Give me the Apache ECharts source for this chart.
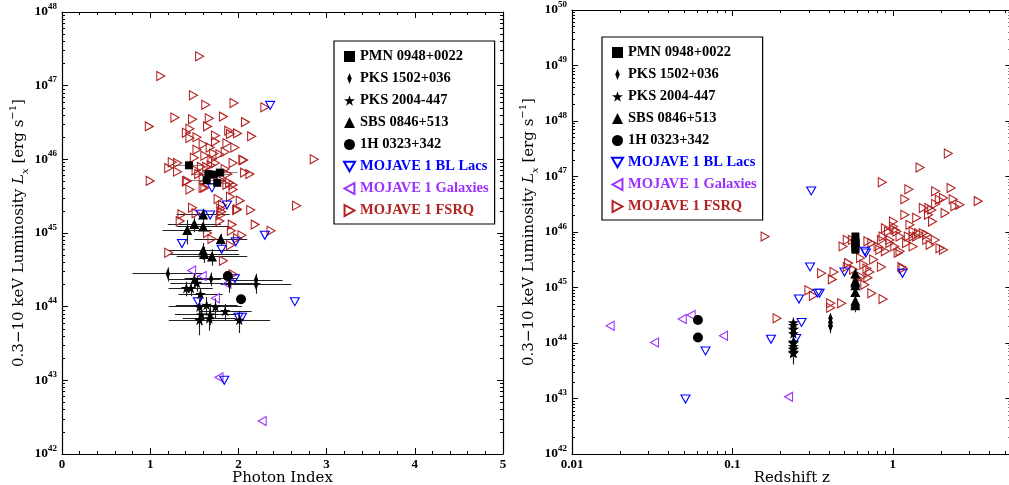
<!DOCTYPE html>
<html>
<head>
<meta charset="utf-8">
<script src="https://cdn.jsdelivr.net/npm/echarts@6/dist/echarts.min.js"></script>
<style>
  html, body { margin: 0; padding: 0; background: #fff; }
  #chart { width: 1009px; height: 485px; }
</style>
</head>
<body>
<div id="chart"></div>
<script>
// ---- Individual sources: rows are [photon index, index error, L_x (erg/s), L_x error] ----
const pmn0948 = [
  [1.44, 0.17, 8.3e45, 0.9e45], [1.66, 0.20, 6.3e45, 0.7e45], [1.72, 0.20, 6.2e45, 0.7e45],
  [1.79, 0.20, 6.6e45, 0.7e45], [1.64, 0.20, 5.2e45, 0.6e45], [1.76, 0.20, 4.8e45, 0.6e45]
];
const pks1502 = [
  [1.20, 0.40, 2.8e44, 0.6e44], [1.69, 0.30, 2.4e44, 0.5e44], [1.90, 0.35, 2.05e44, 0.5e44],
  [2.20, 0.30, 2.3e44, 0.5e44], [2.20, 0.40, 2.0e44, 0.5e44]
];
const pks2004 = [
  [1.50, 0.30, 2.35e44, 0.5e44], [1.53, 0.30, 2.1e44, 0.5e44], [1.41, 0.20, 1.78e44, 0.4e44],
  [1.46, 0.25, 1.78e44, 0.4e44], [1.57, 0.25, 1.48e44, 0.3e44], [1.56, 0.35, 1.0e44, 0.3e44],
  [1.64, 0.35, 1.05e44, 0.3e44], [1.74, 0.30, 1.0e44, 0.3e44], [1.58, 0.30, 7.8e43, 2.2e43],
  [1.68, 0.30, 7.8e43, 2.2e43], [1.85, 0.30, 8.7e43, 2.2e43], [1.56, 0.35, 6.6e43, 2.5e43],
  [1.67, 0.30, 6.9e43, 2.2e43], [2.01, 0.35, 6.6e43, 2.2e43]
];
const sbs0846 = [
  [1.60, 0.30, 1.78e45, 0.35e45], [1.50, 0.30, 1.32e45, 0.3e45], [1.60, 0.30, 1.23e45, 0.3e45],
  [1.42, 0.28, 1.1e45, 0.4e45], [1.80, 0.30, 8.3e44, 1.5e44], [1.60, 0.40, 5.8e44, 1.5e44],
  [1.61, 0.40, 5.2e44, 1.3e44], [1.70, 0.40, 4.8e44, 1.2e44]
];
const h0323 = [
  [1.88, 0.00, 2.6e44, 0], [2.03, 0.00, 1.26e44, 0]
];

// redshifts of the individual sources
const zPMN0948 = 0.585;
const zPKS1502 = 0.409;
const zPKS2004 = 0.240;
const zSBS0846 = 0.584;
const zH0323 = 0.061;

// ---- MOJAVE 1 comparison samples: [photon index, L_x] ----
const bllacIndexLum = [
  [2.36, 5.4e46], [1.70, 4.1e45], [1.87, 2.4e45], [1.57, 1.8e45], [1.68, 1.75e45],
  [2.30, 9.3e44], [1.36, 7.2e44], [1.97, 7.6e44], [1.81, 6.0e44], [1.96, 2.4e44],
  [1.54, 1.17e44], [2.64, 1.17e44], [2.00, 7.2e43], [2.04, 7.2e43], [1.84, 1.0e43]
];
const galaxyIndexLum = [
  [1.47, 3.1e44], [1.59, 2.6e44], [1.87, 2.05e44], [1.74, 1.3e44], [1.78, 1.1e43], [2.27, 2.8e42]
];
const fsrqIndexLum = [
  [1.56, 2.5e47], [1.12, 1.35e47], [1.49, 7.4e46], [1.63, 5.5e46], [1.95, 5.8e46], [2.30, 5.1e46],
  [0.99, 2.8e46], [1.28, 3.7e46], [1.48, 3.5e46], [1.67, 3.6e46], [1.83, 3.8e46], [2.08, 3.2e46],
  [1.45, 2.6e46], [1.41, 2.3e46], [1.65, 2.8e46], [1.45, 1.95e46], [1.53, 2.0e46], [1.74, 2.1e46],
  [1.89, 2.45e46], [1.91, 2.2e46], [1.99, 2.25e46], [2.15, 2.05e46], [1.53, 1.35e46], [1.68, 1.45e46],
  [1.72, 1.2e46], [1.87, 1.65e46], [1.96, 1.45e46], [1.79, 1.17e46], [2.05, 9.8e45], [2.86, 1.0e46],
  [1.25, 9.1e45], [1.31, 8.9e45], [1.21, 7.6e45], [1.31, 6.8e45], [1.52, 7.1e45], [1.00, 5.1e45],
  [1.42, 5.1e45], [1.45, 3.9e45], [1.62, 4.1e45], [1.74, 8.9e45], [1.64, 7.9e45], [1.94, 8.9e45],
  [2.07, 6.6e45], [2.13, 6.3e45], [1.94, 4.5e45], [1.94, 3.9e45], [1.77, 2.9e45], [1.91, 3.1e45],
  [2.02, 2.75e45], [2.14, 2.05e45], [1.48, 2.2e45], [1.34, 1.45e45], [1.82, 2.4e45], [1.99, 2.1e45],
  [2.66, 2.35e45], [2.19, 1.3e45], [2.37, 1.07e45], [1.80, 2.15e45], [1.81, 1.95e45], [1.80, 1.75e45],
  [1.36, 1.8e45], [1.52, 1.85e45], [1.79, 1.45e45], [1.93, 1.3e45], [1.92, 1.07e45], [1.65, 1.0e45],
  [1.70, 8.3e44], [1.99, 8.5e44], [1.91, 6.8e44], [1.21, 5.4e44], [1.83, 4.2e44], [1.94, 2.75e44],
  [1.58, 7.9e45], [1.69, 8.3e45], [1.85, 7.4e45], [1.88, 6.3e45], [1.55, 6.3e45], [1.60, 5.6e45],
  [1.80, 5.2e45], [1.90, 4.8e45], [1.70, 1.0e46], [1.62, 1.12e46], [1.85, 1.26e46], [1.50, 1.05e46],
  [1.74, 1.74e46], [1.60, 1.6e46], [2.04, 9.3e44], [1.41, 5.0e45], [1.60, 4.1e45], [1.87, 4.5e45],
  [2.06, 9.8e45], [1.98, 2.05e45]
];

// ---- MOJAVE 1 comparison samples: [redshift, L_x] ----
const bllacZLum = [
  [0.31, 5.5e46], [0.305, 2.35e45], [0.26, 6.2e44], [0.34, 7.9e44], [0.35, 7.9e44],
  [0.27, 2.35e44], [0.25, 1.2e44], [0.174, 1.17e44], [0.068, 7.2e43], [0.051, 9.8e42],
  [0.50, 1.9e45], [0.67, 4.5e45], [0.68, 4.2e45], [1.15, 1.8e45]
];
const galaxyZLum = [
  [0.0173, 2.05e44], [0.0327, 1.02e44], [0.0487, 2.7e44], [0.0553, 3.2e44], [0.088, 1.35e44], [0.224, 1.07e43]
];
const fsrqZLum = [
  [2.22, 2.6e47], [1.48, 1.45e47], [0.86, 7.9e46], [1.26, 5.9e46], [1.85, 5.4e46], [2.31, 6.2e46],
  [3.41, 3.6e46], [1.19, 3.9e46], [1.55, 2.7e46], [1.85, 3.2e46], [1.95, 3.8e46], [2.07, 4.1e46],
  [2.38, 3.9e46], [2.44, 2.9e46], [2.62, 3.1e46], [1.19, 2.05e46], [1.41, 1.8e46], [2.12, 2.2e46],
  [1.75, 2.5e46], [1.67, 2.05e46], [1.77, 1.55e46], [1.01, 1.55e46], [0.90, 1.17e46], [0.94, 1.02e46],
  [1.03, 1.1e46], [0.87, 8.3e45], [0.96, 7.2e45], [1.28, 1.35e46], [1.34, 1.02e46], [1.25, 8.3e45],
  [1.41, 8.3e45], [1.63, 8.9e45], [1.84, 7.2e45], [1.71, 5.9e45], [0.70, 6.8e45], [0.52, 7.2e45],
  [0.49, 5.5e45], [1.01, 1.26e46], [1.06, 1.02e46], [0.85, 7.2e45], [0.96, 6.3e45], [1.11, 8.3e45],
  [1.34, 8.3e45], [1.45, 9.5e45], [1.22, 6.3e45], [1.34, 5.5e45], [1.55, 9.5e45], [1.63, 7.2e45],
  [1.97, 5.1e45], [2.07, 4.8e45], [1.11, 4.5e45], [0.81, 5.5e45], [0.16, 8.3e45], [0.56, 7.2e45],
  [0.74, 6.3e45], [0.85, 2.35e45], [0.74, 7.9e44], [0.87, 6.2e44], [1.14, 2.35e45], [1.16, 2.2e45],
  [0.36, 1.8e45], [0.43, 1.9e45], [0.42, 1.4e45], [0.30, 8.9e44], [0.32, 7.1e44], [0.41, 5.2e44],
  [0.41, 4.3e44], [0.48, 5.2e44], [0.19, 2.8e44], [0.53, 2.75e45], [0.63, 3.4e45], [0.66, 2.6e45],
  [0.69, 2.2e45], [0.72, 1.9e45], [0.76, 3.2e45], [0.70, 1.5e45], [0.67, 1.12e45], [0.60, 1.5e45],
  [0.83, 4.8e45], [0.90, 4.5e45], [1.03, 5.5e45], [1.08, 4.2e45], [0.57, 2.1e45], [0.64, 1.55e45],
  [1.68, 2.7e46], [0.52, 2.35e45]
];

// ---- axis ticks ----
const photonIndexTicks = [0, 1, 2, 3, 4, 5];
const redshiftTicks = [0.01, 0.1, 1];
const lumTicksLeft = [1e42, 1e43, 1e44, 1e45, 1e46, 1e47, 1e48];
const lumTicksRight = [1e42, 1e43, 1e44, 1e45, 1e46, 1e47, 1e48, 1e49, 1e50];

const SERIF = '"Liberation Serif", "Times New Roman", serif';
const TITLE = '"DejaVu Serif", serif';
const RED = '#b22222';
const BLUE = '#0000ff';
const PURPLE = '#9b30ff';

const NAMES = {
  pmn: 'PMN 0948+0022', p1502: 'PKS 1502+036', p2004: 'PKS 2004-447', sbs: 'SBS 0846+513',
  h0323: '1H 0323+342', bl: 'MOJAVE 1 BL Lacs', gal: 'MOJAVE 1 Galaxies', fsrq: 'MOJAVE 1 FSRQ'
};

const SYM = {
  star: 'path://M0,-1L0.223,-0.307L0.951,-0.309L0.361,0.117L0.588,0.809L0,0.38L-0.588,0.809L-0.361,0.117L-0.951,-0.309L-0.223,-0.307Z',
  diamond: 'path://M0,-5L2,0L0,5L-2,0Z',
  right: 'path://M0,0L9,5L0,10Z',
  left: 'path://M9,0L0,5L9,10Z',
  down: 'path://M0,0L10,0L5,8.7Z'
};

// minor log ticks: 2..9 x 10^d strictly inside (lo, hi)
function minorLogValues(lo, hi) {
  const out = [];
  for (let d = Math.floor(Math.log10(lo)); d < Math.ceil(Math.log10(hi)); d++) {
    for (let m = 2; m <= 9; m++) {
      const v = m * Math.pow(10, d);
      if (v > lo * 1.0001 && v < hi * 0.9999) out.push(v);
    }
  }
  return out;
}
// a hair of slack so the end decades survive floating-point rounding
const pad = v => v * 1.000001;
const padLo = v => v / 1.000001;

function powLabel(v) {
  return '{b|10}{s|' + Math.round(Math.log10(v)) + '}';
}
const powRich = {
  b: { fontFamily: SERIF, fontWeight: 'bold', fontSize: 13.5, color: '#000', lineHeight: 20, verticalAlign: 'middle' },
  s: { fontFamily: SERIF, fontWeight: 'bold', fontSize: 9, color: '#000', lineHeight: 10, verticalAlign: 'top' }
};
const lumName = '{n|0.3\u221210 keV Luminosity }{it|L}{sub|x}{n| [erg s}{sup|\u22121}{n|]}';
const lumNameStyle = {
  color: '#000', lineHeight: 22,
  rich: {
    n: { fontFamily: TITLE, fontSize: 15, color: '#000', lineHeight: 22, verticalAlign: 'middle' },
    it: { fontFamily: TITLE, fontSize: 15, fontStyle: 'italic', color: '#000', lineHeight: 22, verticalAlign: 'middle' },
    sub: { fontFamily: TITLE, fontSize: 10, fontStyle: 'italic', color: '#000', lineHeight: 12, verticalAlign: 'bottom' },
    sup: { fontFamily: TITLE, fontSize: 10, color: '#000', lineHeight: 12, verticalAlign: 'top' }
  }
};
const tickLabelStyle = { fontFamily: SERIF, fontWeight: 'bold', fontSize: 13, color: '#000' };
const xNameStyle = { fontFamily: TITLE, fontSize: 15, color: '#000', verticalAlign: 'top' };

const LINE = { show: true, lineStyle: { color: '#000', width: 1.2 } };
const NOLINE = { show: false };

function majorTick(values) {
  const t = { show: true, inside: true, length: 6, lineStyle: { color: '#000', width: 1 } };
  if (values) t.customValues = values;
  return t;
}
function minorTickAxis(values) {
  return { show: true, inside: true, length: 3, lineStyle: { color: '#000', width: 1 }, customValues: values };
}

// ---- axes ----
const zMin = padLo(0.01), zMax = 5.5;
const xAxes = [
  // left panel: photon index
  {
    gridIndex: 0, type: 'value', position: 'bottom', min: 0, max: 5, interval: 1,
    axisLine: LINE, axisTick: majorTick(),
    minorTick: { show: true, splitNumber: 5, length: 3, lineStyle: { color: '#000', width: 1 } },
    splitLine: { show: false }, minorSplitLine: { show: false },
    axisLabel: Object.assign({ margin: 4, customValues: photonIndexTicks, showMinLabel: true, showMaxLabel: true }, tickLabelStyle),
    name: 'Photon Index', nameLocation: 'middle', nameGap: 17, nameMoveOverlap: false,
    nameTextStyle: xNameStyle
  },
  {
    gridIndex: 0, type: 'value', position: 'top', min: 0, max: 5, interval: 1,
    axisLine: LINE, axisTick: majorTick(),
    minorTick: { show: true, splitNumber: 5, length: 3, lineStyle: { color: '#000', width: 1 } },
    splitLine: { show: false }, axisLabel: { show: false }
  },
  // right panel: redshift (log)
  {
    gridIndex: 1, type: 'log', logBase: 10, position: 'bottom', min: zMin, max: zMax,
    axisLine: LINE, axisTick: majorTick(redshiftTicks), splitLine: { show: false },
    axisLabel: Object.assign({ margin: 4, customValues: redshiftTicks, showMinLabel: true, formatter: v => String(v) }, tickLabelStyle),
    name: 'Redshift z', nameLocation: 'middle', nameGap: 17, nameMoveOverlap: false,
    nameTextStyle: xNameStyle
  },
  {
    gridIndex: 1, type: 'log', logBase: 10, position: 'bottom', min: zMin, max: zMax,
    axisLine: NOLINE, axisTick: minorTickAxis(minorLogValues(0.01, 5.5)),
    splitLine: { show: false }, axisLabel: { show: false }
  },
  {
    gridIndex: 1, type: 'log', logBase: 10, position: 'top', min: zMin, max: zMax,
    axisLine: LINE, axisTick: majorTick(redshiftTicks), splitLine: { show: false }, axisLabel: { show: false }
  },
  {
    gridIndex: 1, type: 'log', logBase: 10, position: 'top', min: zMin, max: zMax,
    axisLine: NOLINE, axisTick: minorTickAxis(minorLogValues(0.01, 5.5)),
    splitLine: { show: false }, axisLabel: { show: false }
  }
];

function lumAxes(grid, lo, hi, ticks, nameGap) {
  const minor = minorLogValues(lo, hi);
  const base = { gridIndex: grid, type: 'log', logBase: 10, min: padLo(lo), max: pad(hi), splitLine: { show: false } };
  return [
    Object.assign({}, base, {
      position: 'left', axisLine: LINE, axisTick: majorTick(ticks),
      axisLabel: { margin: 5, customValues: ticks, showMinLabel: true, showMaxLabel: true, hideOverlap: false, formatter: powLabel, rich: powRich },
      name: lumName, nameLocation: 'middle', nameGap: nameGap, nameTextStyle: lumNameStyle
    }),
    Object.assign({}, base, { position: 'left', axisLine: NOLINE, axisTick: minorTickAxis(minor), axisLabel: { show: false } }),
    Object.assign({}, base, { position: 'right', axisLine: LINE, axisTick: majorTick(ticks), axisLabel: { show: false } }),
    Object.assign({}, base, { position: 'right', axisLine: NOLINE, axisTick: minorTickAxis(minor), axisLabel: { show: false } })
  ];
}
const yAxes = lumAxes(0, 1e42, 1e48, lumTicksLeft, 32).concat(lumAxes(1, 1e42, 1e50, lumTicksRight, 26));

// ---- series helpers ----
// error bars as straight segments in data coordinates
function errorBars(rows, xi, yi, color) {
  const segs = [];
  rows.forEach(function (r) {
    const x = r[0], xe = r[1], y = r[2], ye = r[3];
    if (xe > 0) segs.push({ coords: [[x - xe, y], [x + xe, y]] });
    if (ye > 0) segs.push({ coords: [[x, y - ye], [x, y + ye]] });
  });
  return {
    type: 'lines', coordinateSystem: 'cartesian2d', xAxisIndex: xi, yAxisIndex: yi,
    silent: true, z: 2, symbol: 'none',
    lineStyle: { color: color, width: 1.1, opacity: 1, curveness: 0 },
    data: segs
  };
}
function filled(name, data, xi, yi, symbol, size) {
  return {
    type: 'scatter', name: name, xAxisIndex: xi, yAxisIndex: yi, data: data, z: 5,
    symbol: symbol, symbolSize: size, symbolKeepAspect: true,
    itemStyle: { color: '#000', opacity: 1 }
  };
}
function hollow(name, data, xi, yi, symbol, size, color) {
  return {
    type: 'scatter', name: name, xAxisIndex: xi, yAxisIndex: yi, data: data, z: 3,
    symbol: symbol, symbolSize: size,
    itemStyle: { color: 'rgba(255,255,255,0)', borderColor: color, borderWidth: 1.1, opacity: 1 }
  };
}

const sources = [
  { key: 'pmn', rows: pmn0948, z: zPMN0948, symbol: 'rect', size: 8, err: '#8a8a8a' },
  { key: 'p1502', rows: pks1502, z: zPKS1502, symbol: SYM.diamond, size: 11, err: '#222' },
  { key: 'p2004', rows: pks2004, z: zPKS2004, symbol: SYM.star, size: 11, err: '#222' },
  { key: 'sbs', rows: sbs0846, z: zSBS0846, symbol: 'triangle', size: 10, err: '#222' },
  { key: 'h0323', rows: h0323, z: zH0323, symbol: 'circle', size: 10, err: '#222' }
];

const series = [];
// comparison samples first (drawn underneath)
series.push(hollow(NAMES.fsrq, fsrqIndexLum, 0, 0, SYM.right, [8, 9], RED));
series.push(hollow(NAMES.gal, galaxyIndexLum, 0, 0, SYM.left, [8, 9], PURPLE));
series.push(hollow(NAMES.bl, bllacIndexLum, 0, 0, SYM.down, [9, 8], BLUE));
series.push(hollow(NAMES.fsrq, fsrqZLum, 2, 4, SYM.right, [8, 9], RED));
series.push(hollow(NAMES.gal, galaxyZLum, 2, 4, SYM.left, [8, 9], PURPLE));
series.push(hollow(NAMES.bl, bllacZLum, 2, 4, SYM.down, [9, 8], BLUE));

sources.forEach(function (s) {
  // photon index panel
  series.push(errorBars(s.rows, 0, 0, s.err));
  series.push(filled(NAMES[s.key], s.rows.map(r => [r[0], r[2]]), 0, 0, s.symbol, s.size));
  // redshift panel: only the luminosity errors
  const zRows = s.rows.map(r => [s.z, 0, r[2], r[3]]);
  series.push(errorBars(zRows, 2, 4, '#222'));
  series.push(filled(NAMES[s.key], zRows.map(r => [r[0], r[2]]), 2, 4, s.symbol, s.size));
});

function legendData() {
  return [
    { name: NAMES.pmn, textStyle: { color: '#000' } },
    { name: NAMES.p1502, textStyle: { color: '#000' } },
    { name: NAMES.p2004, textStyle: { color: '#000' } },
    { name: NAMES.sbs, textStyle: { color: '#000' } },
    { name: NAMES.h0323, textStyle: { color: '#000' } },
    { name: NAMES.bl, textStyle: { color: BLUE } },
    { name: NAMES.gal, textStyle: { color: PURPLE } },
    { name: NAMES.fsrq, textStyle: { color: RED } }
  ];
}
function legendBox(left, top) {
  return {
    left: left, top: top, orient: 'vertical', data: legendData(), selectedMode: false,
    itemWidth: 11, itemHeight: 11, itemGap: 7, itemTextGap: 7,
    padding: [8, 6, 6, 9],
    backgroundColor: '#fff', borderColor: '#000', borderWidth: 1.2, borderRadius: 0,
    textStyle: { fontFamily: SERIF, fontWeight: 'bold', fontSize: 14.5, lineHeight: 15, color: '#000' }
  };
}

const chart = echarts.init(document.getElementById('chart'), null, { renderer: 'canvas' });
chart.setOption({
  animation: false,
  backgroundColor: '#fff',
  grid: [
    { left: 62, top: 12, width: 441, height: 442, outerBoundsMode: 'none', containLabel: false },
    { left: 572, top: 10, width: 439.5, height: 444, outerBoundsMode: 'none', containLabel: false }
  ],
  legend: [legendBox(334, 41), legendBox(602, 37)],
  xAxis: xAxes,
  yAxis: yAxes,
  series: series
});
</script>
</body>
</html>
